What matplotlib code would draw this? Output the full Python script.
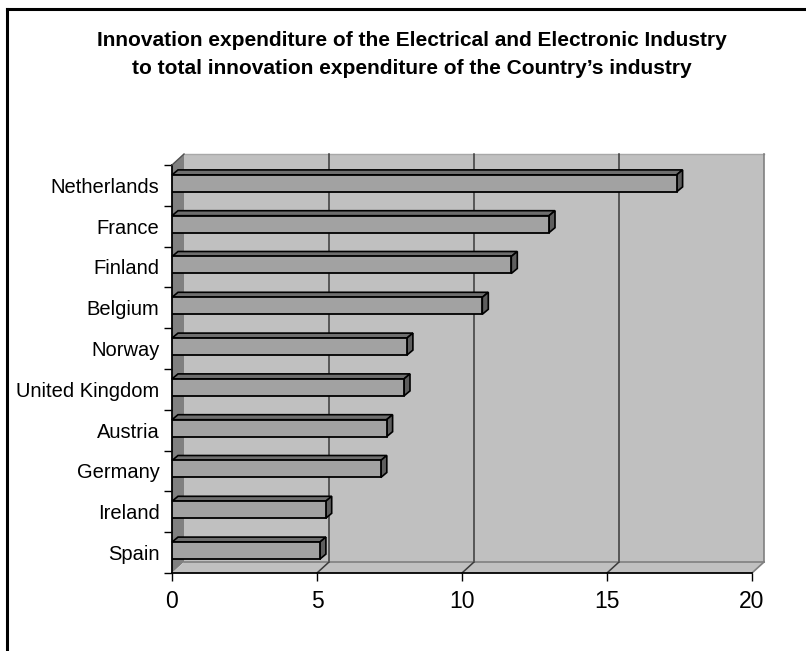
import matplotlib
matplotlib.use("Agg")
import matplotlib.pyplot as plt
from matplotlib.patches import Polygon, Rectangle
from matplotlib.lines import Line2D

plt.rcParams['font.family'] = ['Liberation Sans', 'DejaVu Sans']

countries = ["Spain", "Ireland", "Germany", "Austria", "United Kingdom",
             "Norway", "Belgium", "Finland", "France", "Netherlands"]
values = [5.1, 5.3, 7.2, 7.4, 8.0, 8.1, 10.7, 11.7, 13.0, 17.4]
xticks = [0, 5, 10, 15, 20]
title = ("Innovation expenditure of the Electrical and Electronic Industry\n"
         "to total innovation expenditure of the Country\u2019s industry")

W, H = 806, 651
fig = plt.figure(figsize=(W / 100, H / 100), dpi=100)

# front plane of the pseudo-3D box (pixels)
x0p, x1p, ybp, ytp = 172, 752, 573, 165
ax = fig.add_axes([x0p / W, 1 - ybp / H, (x1p - x0p) / W, (ybp - ytp) / H])
n = len(countries)
xmax = 20
ax.set_xlim(0, xmax)
ax.set_ylim(-0.5, n - 0.5)
for s in ax.spines.values():
    s.set_visible(False)
ax.patch.set_visible(False)

# depth offsets in data units
px_x = xmax / (x1p - x0p)
px_y = n / (ybp - ytp)
dx, dy = 12 * px_x, 11 * px_y
ylo, yhi = -0.5, n - 0.5

wall_c = "#C0C0C0"
side_c = "#808080"

# back wall
ax.add_patch(Rectangle((dx, ylo + dy), xmax, n, facecolor=wall_c,
                       edgecolor="none", zorder=0, clip_on=False))
ax.plot([dx, dx + xmax], [yhi + dy, yhi + dy], color="#A8A8A8", lw=1, zorder=1, clip_on=False)
ax.plot([dx + xmax, dx + xmax], [ylo + dy, yhi + dy], color="#808080", lw=1.2, zorder=1, clip_on=False)
# left wall
ax.add_patch(Polygon([(0, ylo), (0, yhi), (dx, yhi + dy), (dx, ylo + dy)],
                     closed=True, facecolor=side_c, edgecolor="none", zorder=1, clip_on=False))
# floor
ax.add_patch(Polygon([(0, ylo), (xmax, ylo), (xmax + dx, ylo + dy), (dx, ylo + dy)],
                     closed=True, facecolor=wall_c, edgecolor="none", zorder=1, clip_on=False))
ax.plot([dx, xmax + dx], [ylo + dy, ylo + dy], color="#808080", lw=1.2, zorder=2, clip_on=False)
ax.plot([xmax, xmax + dx], [ylo, ylo + dy], color="#808080", lw=1.2, zorder=2, clip_on=False)
# gridlines on back wall and floor
for t in xticks[1:-1]:
    ax.plot([t + dx, t + dx], [ylo + dy, yhi + dy], color="#3A3A3A", lw=1.1, zorder=1.5, clip_on=False)
    ax.plot([t, t + dx], [ylo, ylo + dy], color="#3A3A3A", lw=1.1, zorder=2, clip_on=False)
# front axis lines
ax.plot([0, xmax], [ylo, ylo], color="black", lw=1.3, zorder=3, clip_on=False)
ax.plot([0, 0], [ylo, yhi], color="black", lw=1.3, zorder=3, clip_on=False)
ax.plot([0, dx], [yhi, yhi + dy], color="#505050", lw=1, zorder=3, clip_on=False)

# bars
h = 17 * px_y
bdx, bdy = 6 * px_x, 5 * px_y
shift = 2 * px_y
for i, v in enumerate(values):
    yc = i + shift
    yb, yt = yc - h / 2, yc + h / 2
    ax.add_patch(Polygon([(0, yt), (v, yt), (v + bdx, yt + bdy), (bdx, yt + bdy)],
                         closed=True, facecolor="#6E6E6E", edgecolor="black",
                         lw=1.2, zorder=4, clip_on=False, joinstyle="miter"))
    ax.add_patch(Polygon([(v, yb), (v, yt), (v + bdx, yt + bdy), (v + bdx, yb + bdy)],
                         closed=True, facecolor="#5E5E5E", edgecolor="black",
                         lw=1.2, zorder=4, clip_on=False, joinstyle="miter"))
ax.barh(range(n), values, height=h, left=0, color="#A2A2A2", edgecolor="black",
        linewidth=1.3, zorder=5)
for p, v in zip(ax.patches[-n:], values):
    p.set_y(p.get_y() + shift)

# ticks
ax.set_xticks(xticks)
ax.set_xticklabels([str(t) for t in xticks], fontsize=16.5)
ax.tick_params(axis="x", length=6, width=1, color="black", pad=6, direction="out")
ax.set_yticks(range(n))
ax.set_yticklabels(countries, fontsize=14.5)
ax.tick_params(axis="y", length=0, pad=9)
ax.set_yticks([k - 0.5 for k in range(n + 1)], minor=True)
ax.tick_params(axis="y", which="minor", length=6, width=1, color="black")

# title
fig.text(412 / W, 1 - 54 / H, title, ha="center", va="center", fontsize=15,
         fontweight="bold", linespacing=1.6)

# outer frame (top and left)
fig.add_artist(Line2D([7 / W, 1.0], [1 - 9 / H, 1 - 9 / H], transform=fig.transFigure,
                      color="black", lw=2.2))
fig.add_artist(Line2D([7 / W, 7 / W], [1 - 9 / H, 0], transform=fig.transFigure,
                      color="black", lw=2.2))

fig.savefig("out.png", dpi=100)
